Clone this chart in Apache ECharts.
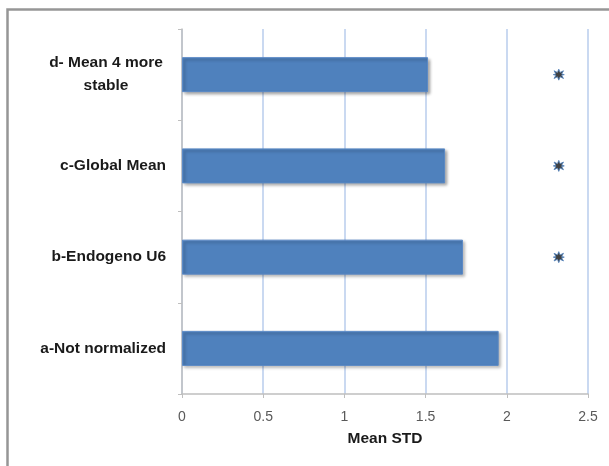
<!DOCTYPE html>
<html>
<head>
<meta charset="utf-8">
<script src="https://cdn.jsdelivr.net/npm/echarts@6/dist/echarts.min.js"></script>
<style>
html,body{margin:0;padding:0;background:#fff;}
#chart{width:609px;height:466px;}
</style>
</head>
<body>
<div id="chart"></div>
<script>
const categories = ['a-Not normalized', 'b-Endogeno U6', 'c-Global Mean', 'd- Mean 4 more\nstable'];
const stdValues = [1.95, 1.73, 1.62, 1.515];
const asteriskValues = [null, 2.32, 2.32, 2.32];
const xTicks = [0, 0.5, 1, 1.5, 2, 2.5];

const FONT = '"Liberation Sans", Arial, sans-serif';
const chart = echarts.init(document.getElementById('chart'), null, {renderer: 'canvas'});

const starPath = 'path://M5,0 L6.2,3 L9.3,1.5 L7.6,4.4 L10,5 L7.6,5.6 L9.3,8.5 L6.2,7 L5,10 L3.8,7 L0.7,8.5 L2.4,5.6 L0,5 L2.4,4.4 L0.7,1.5 L3.8,3 Z';

const labelBase = {fontFamily: FONT, fontWeight: 'bold', fontSize: 15.5, color: '#1a1a1a'};

chart.setOption({
  animation: false,
  backgroundColor: '#ffffff',
  graphic: [{
    type: 'rect',
    shape: {x: 7.5, y: 9.5, width: 640, height: 480},
    style: {fill: 'none', stroke: '#969696', lineWidth: 2.5},
    z: -1
  }],
  grid: {left: 182, right: 21, top: 29, bottom: 72, containLabel: false},
  xAxis: {
    type: 'value',
    min: xTicks[0],
    max: xTicks[xTicks.length - 1],
    interval: 0.5,
    name: 'Mean STD',
    nameLocation: 'middle',
    nameGap: 37,
    nameTextStyle: {fontFamily: FONT, fontWeight: 'bold', fontSize: 15.5, color: '#1a1a1a'},
    axisLine: {show: true, lineStyle: {color: '#bfbfbf', width: 1.5}},
    axisTick: {show: true, length: 4, lineStyle: {color: '#bfbfbf'}},
    axisLabel: {fontFamily: FONT, fontSize: 14, color: '#595959', margin: 16},
    splitLine: {show: true, lineStyle: {color: '#b8cdec', width: 1.5}}
  },
  yAxis: {
    type: 'category',
    data: categories,
    axisLine: {show: true, lineStyle: {color: '#bfbfbf', width: 1.5}},
    axisTick: {show: true, length: 4, lineStyle: {color: '#bfbfbf'}},
    axisLabel: {
      margin: 16,
      align: 'right',
      formatter: function (v) { return v.indexOf('\n') >= 0 ? '{w|' + v + '}' : '{n|' + v + '}'; },
      rich: {
        n: Object.assign({}, labelBase),
        w: Object.assign({}, labelBase, {width: 120, align: 'center', lineHeight: 23})
      }
    },
    splitLine: {show: false}
  },
  series: [{
    type: 'bar',
    data: stdValues,
    barWidth: 35,
    itemStyle: {
      color: '#4f81bd',
      borderColor: '#5b8ac6',
      borderWidth: 1,
      shadowColor: 'rgba(0,0,0,0.35)',
      shadowBlur: 3,
      shadowOffsetX: 2,
      shadowOffsetY: 2
    },
    z: 2
  }, {
    type: 'scatter',
    data: asteriskValues,
    symbol: starPath,
    symbolSize: 11,
    itemStyle: {color: '#111111', borderColor: '#4f81bd', borderWidth: 1},
    z: 3
  }]
});
</script>
</body>
</html>
